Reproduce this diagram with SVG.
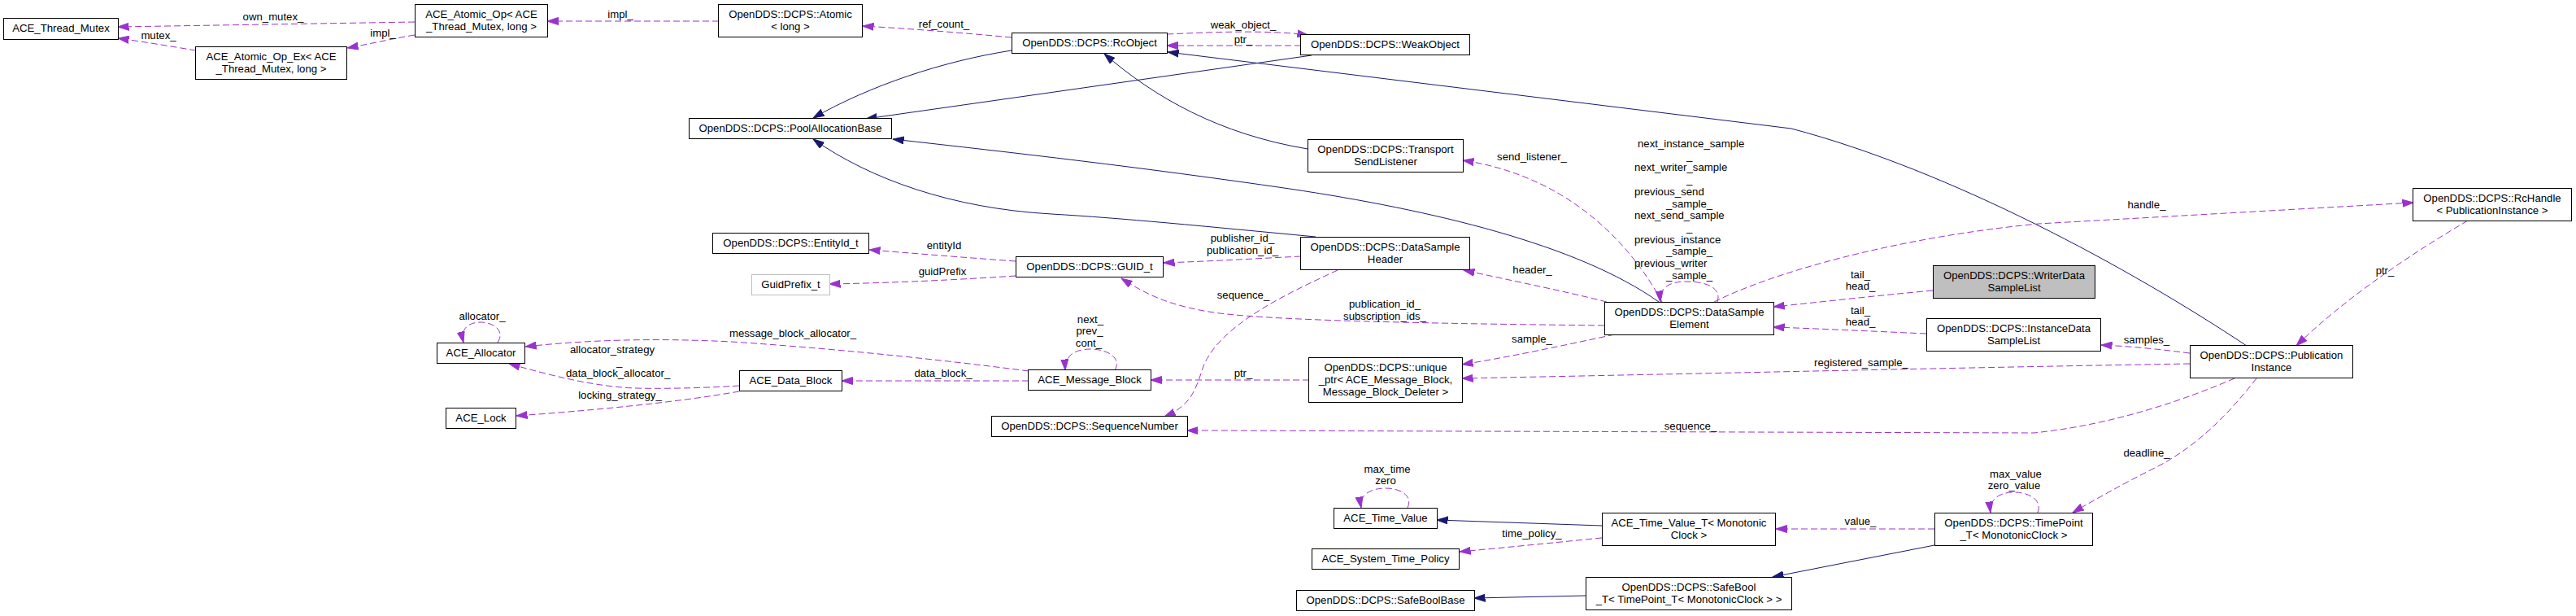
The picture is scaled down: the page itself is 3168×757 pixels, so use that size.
<svg xmlns="http://www.w3.org/2000/svg" width="3168" height="757" viewBox="0 0 3168 757">
<style>
.n rect{fill:#fff;stroke:#000;stroke-width:1}
.n text,.l{font-family:"Liberation Sans",Arial,Helvetica,sans-serif;font-size:13.2px;fill:#000}
.n text{text-anchor:middle}
.l{text-anchor:middle}
.s{text-anchor:start}
.e{fill:none;stroke:#9a32cd;stroke-width:1;stroke-dasharray:8,4}
.i{fill:none;stroke:#191970;stroke-width:1}
</style>
<defs>
<marker id="ap" viewBox="0 0 14 10" refX="13.5" refY="5" markerWidth="14" markerHeight="10" markerUnits="userSpaceOnUse" orient="auto"><path d="M0,0.5 L13.5,5 L0,9.5 z" fill="#9a32cd" stroke="#9a32cd"/></marker>
<marker id="ab" viewBox="0 0 14 10" refX="13.5" refY="5" markerWidth="14" markerHeight="10" markerUnits="userSpaceOnUse" orient="auto"><path d="M0,0.5 L13.5,5 L0,9.5 z" fill="#191970" stroke="#191970"/></marker>
</defs>
<rect width="3168" height="757" fill="#fff"/>
<g id="edges">
<path class="e" marker-end="url(#ap)" d="M510,27 L145,33"/>
<text class="l" x="336" y="25">own_mutex_</text>
<path class="e" marker-end="url(#ap)" d="M241,62 C210,57 175,51 145,47"/>
<text class="l" x="195" y="48">mutex_</text>
<path class="e" marker-end="url(#ap)" d="M510,43 C480,48 455,54 427,59"/>
<text class="l" x="471" y="45">impl_</text>
<path class="e" marker-end="url(#ap)" d="M884,26 L673,26"/>
<text class="l" x="763" y="21.5">impl_</text>
<path class="e" marker-end="url(#ap)" d="M1244,46 C1180,40 1115,35 1061,32"/>
<text class="l" x="1161" y="34">ref_count_</text>
<path class="e" marker-end="url(#ap)" d="M1435,42 C1500,39 1560,37 1609,43"/>
<text class="l" x="1529" y="35">weak_object_</text>
<path class="e" marker-end="url(#ap)" d="M1600,56 L1435,56"/>
<text class="l" x="1529" y="53">ptr_</text>
<path class="i" marker-end="url(#ab)" d="M1244,62 C1160,75 1070,105 1000,145"/>
<path class="i" marker-end="url(#ab)" d="M1613,68 L1065,146"/>
<path class="i" marker-end="url(#ab)" d="M2763,425 C2620,330 2400,210 2203,158 L1436,64"/>
<path class="i" marker-end="url(#ab)" d="M1608,183 C1500,165 1420,120 1358,66"/>
<path class="i" marker-end="url(#ab)" d="M2040,371 C1940,300 1760,258 1586,232 C1400,205 1250,188 1098,171"/>
<path class="i" marker-end="url(#ab)" d="M1618,291 C1480,278 1380,268 1293,263 C1170,256 1070,220 1000,171"/>
<path class="e" marker-end="url(#ap)" d="M3035,271 C2960,315 2880,370 2824,425"/>
<text class="l" x="2933" y="337">ptr_</text>
<path class="e" marker-end="url(#ap)" d="M2108,371 C2180,335 2330,292 2507,275 L2968,249"/>
<text class="l" x="2640" y="256">handle_</text>
<path class="e" marker-end="url(#ap)" d="M2377,357 C2310,363 2250,370 2181,377"/>
<text class="l" x="2288" y="342">tail_</text>
<text class="l" x="2288" y="356">head_</text>
<path class="e" marker-end="url(#ap)" d="M2369,410 C2300,407 2240,404 2181,402"/>
<text class="l" x="2288" y="386">tail_</text>
<text class="l" x="2288" y="400">head_</text>
<path class="e" marker-end="url(#ap)" d="M2693,434 C2660,430 2630,426 2584,424"/>
<text class="l" x="2640" y="422">samples_</text>
<path class="e" marker-end="url(#ap)" d="M2693,447 C2400,452 2100,459 1798,465"/>
<text class="l" x="2289" y="450">registered_sample_</text>
<path class="e" marker-end="url(#ap)" d="M1986,411 C1920,425 1860,438 1798,448"/>
<text class="l" x="1884" y="421">sample_</text>
<path class="e" marker-end="url(#ap)" d="M1973,400 C1800,398 1580,395 1500,385 C1440,377 1410,362 1379,342"/>
<text class="l" x="1703" y="378">publication_id_</text>
<text class="l" x="1703" y="393">subscription_ids_</text>
<path class="e" marker-end="url(#ap)" d="M1645,332 C1580,362 1500,400 1480,450 C1470,480 1465,498 1432,512"/>
<text class="l" x="1529" y="367">sequence_</text>
<path class="e" marker-end="url(#ap)" d="M1600,315 C1540,318 1490,321 1431,323"/>
<text class="l" x="1528" y="297">publisher_id_</text>
<text class="l" x="1528" y="312">publication_id_</text>
<path class="e" marker-end="url(#ap)" d="M1249,321 C1180,316 1120,311 1069,307"/>
<text class="l" x="1161" y="306">entityId</text>
<path class="e" marker-end="url(#ap)" d="M1249,339 C1160,345 1080,348 1020,349"/>
<text class="l" x="1159" y="338">guidPrefix</text>
<path class="e" marker-end="url(#ap)" d="M1371,455 C1380,440 1362,429 1341,429 C1322,429 1309,437 1310,455"/>
<text class="l" x="1341" y="397">next_</text>
<text class="l" x="1340" y="411">prev_</text>
<text class="l" x="1339" y="425.5">cont_</text>
<path class="e" marker-end="url(#ap)" d="M1265,456 C1180,445 1050,430 900,420 C800,415 720,418 646,426"/>
<text class="l" x="975" y="414">message_block_allocator_</text>
<path class="e" marker-end="url(#ap)" d="M909,474 C850,478 780,478 765,476 C720,472 680,462 626,447"/>
<text class="l s" x="701" y="434">allocator_strategy</text>
<text class="l s" x="758" y="448.5">_</text>
<text class="l s" x="696" y="463">data_block_allocator_</text>
<path class="e" marker-end="url(#ap)" d="M909,481 C830,495 720,505 635,511"/>
<text class="l" x="762.5" y="490">locking_strategy_</text>
<path class="e" marker-end="url(#ap)" d="M612,421 C622,405 605,396 591,396 C575,396 566,405 570,421"/>
<text class="l" x="593" y="393">allocator_</text>
<path class="e" marker-end="url(#ap)" d="M1265,468 L1035,468"/>
<text class="l" x="1160" y="463">data_block_</text>
<path class="e" marker-end="url(#ap)" d="M1610,467 L1415,467"/>
<text class="l" x="1529" y="463">ptr_</text>
<path class="e" marker-end="url(#ap)" d="M2748,465 C2690,490 2600,522 2501,532 L1460,529"/>
<text class="l" x="2079" y="528">sequence_</text>
<path class="e" marker-end="url(#ap)" d="M2775,465 C2740,510 2700,550 2650,575 C2610,595 2580,612 2549,630"/>
<text class="l" x="2640" y="561">deadline_</text>
<path class="e" marker-end="url(#ap)" d="M2506,630 C2512,614 2495,605 2477,605 C2458,605 2446,614 2448,630"/>
<text class="l" x="2479" y="587">max_value</text>
<text class="l" x="2477" y="601">zero_value</text>
<path class="e" marker-end="url(#ap)" d="M2379,650 L2184,650"/>
<text class="l" x="2288" y="645">value_</text>
<path class="i" marker-end="url(#ab)" d="M2379,670 L2180,709"/>
<path class="i" marker-end="url(#ab)" d="M1970,646 L1767,639"/>
<path class="e" marker-end="url(#ap)" d="M1970,661 C1910,667 1850,673 1795,678"/>
<text class="l" x="1884" y="660">time_policy_</text>
<path class="e" marker-end="url(#ap)" d="M1731,624 C1738,609 1722,600 1704,600 C1686,600 1671,608 1674,624"/>
<text class="l" x="1706" y="581">max_time</text>
<text class="l" x="1704" y="595">zero</text>
<path class="i" marker-end="url(#ab)" d="M1951,732 L1813,735"/>
<path class="e" marker-end="url(#ap)" d="M1976,371 C1920,357 1860,345 1800,332"/>
<text class="l" x="1884.5" y="336">header_</text>
<path class="e" marker-end="url(#ap)" d="M2044,371 C2000,290 1920,215 1799,197"/>
<text class="l" x="1884" y="197">send_listener_</text>
<path class="e" marker-end="url(#ap)" d="M2112,371 C2118,352 2095,346 2074,346 C2055,346 2040,352 2042,371"/>
<text class="l s" x="2014" y="181">next_instance_sample</text>
<text class="l s" x="2074" y="195.7">_</text>
<text class="l s" x="2010" y="210.4">next_writer_sample</text>
<text class="l s" x="2074" y="225">_</text>
<text class="l s" x="2010" y="240">previous_send</text>
<text class="l s" x="2049" y="254.5">_sample_</text>
<text class="l s" x="2010" y="269">next_send_sample</text>
<text class="l s" x="2074" y="284">_</text>
<text class="l s" x="2010" y="298.6">previous_instance</text>
<text class="l s" x="2049" y="313.3">_sample_</text>
<text class="l s" x="2010" y="328">previous_writer</text>
<text class="l s" x="2049" y="342.7">_sample_</text>
</g>
<g id="n_thread_mutex" class="n"><rect x="4.5" y="22.5" width="141" height="26"/><text x="75" y="39">ACE_Thread_Mutex</text></g>
<g id="n_atomic_op_ex" class="n"><rect x="240.5" y="57.5" width="186" height="40"/><text x="333.5" y="74">ACE_Atomic_Op_Ex&lt; ACE</text><text x="333.5" y="89">_Thread_Mutex, long &gt;</text></g>
<g id="n_atomic_op" class="n"><rect x="510.5" y="5.5" width="163" height="40"/><text x="592" y="22">ACE_Atomic_Op&lt; ACE</text><text x="592" y="37">_Thread_Mutex, long &gt;</text></g>
<g id="n_atomic_long" class="n"><rect x="883.5" y="5.5" width="177" height="40"/><text x="972" y="22">OpenDDS::DCPS::Atomic</text><text x="972" y="37">&lt; long &gt;</text></g>
<g id="n_pool" class="n"><rect x="847.5" y="145.5" width="249" height="25"/><text x="972" y="161.5">OpenDDS::DCPS::PoolAllocationBase</text></g>
<g id="n_entityid" class="n"><rect x="876.5" y="286.5" width="192" height="25"/><text x="972.5" y="303">OpenDDS::DCPS::EntityId_t</text></g>
<g id="n_guidprefix" class="n"><rect x="924.5" y="337.5" width="96" height="25" style="stroke:#bfbfbf"/><text x="972.5" y="354">GuidPrefix_t</text></g>
<g id="n_rcobject" class="n"><rect x="1244.5" y="40.5" width="191" height="25"/><text x="1340" y="56.5">OpenDDS::DCPS::RcObject</text></g>
<g id="n_guid" class="n"><rect x="1249.5" y="315.5" width="181" height="25"/><text x="1340" y="332">OpenDDS::DCPS::GUID_t</text></g>
<g id="n_allocator" class="n"><rect x="537.5" y="421.5" width="108" height="25"/><text x="591.5" y="437.5">ACE_Allocator</text></g>
<g id="n_lock" class="n"><rect x="548.5" y="501.5" width="86" height="25"/><text x="591.5" y="517.5">ACE_Lock</text></g>
<g id="n_data_block" class="n"><rect x="909.5" y="455.5" width="126" height="25"/><text x="972.5" y="471.5">ACE_Data_Block</text></g>
<g id="n_message_block" class="n"><rect x="1264.5" y="454.5" width="151" height="25"/><text x="1340" y="470.5">ACE_Message_Block</text></g>
<g id="n_seqnum" class="n"><rect x="1219.5" y="511.5" width="241" height="25"/><text x="1340" y="528">OpenDDS::DCPS::SequenceNumber</text></g>
<g id="n_weakobject" class="n"><rect x="1599.5" y="42.5" width="208" height="25"/><text x="1703.5" y="59">OpenDDS::DCPS::WeakObject</text></g>
<g id="n_tsl" class="n"><rect x="1608.5" y="171.5" width="191" height="40"/><text x="1704" y="188">OpenDDS::DCPS::Transport</text><text x="1704" y="203">SendListener</text></g>
<g id="n_dsh" class="n"><rect x="1599.5" y="291.5" width="208" height="40"/><text x="1703.5" y="308">OpenDDS::DCPS::DataSample</text><text x="1703.5" y="323">Header</text></g>
<g id="n_dse" class="n"><rect x="1973.5" y="371.5" width="208" height="40"/><text x="2077.5" y="388">OpenDDS::DCPS::DataSample</text><text x="2077.5" y="403">Element</text></g>
<g id="n_unique" class="n"><rect x="1609.5" y="439.5" width="189" height="55"/><text x="1704" y="456">OpenDDS::DCPS::unique</text><text x="1704" y="471">_ptr&lt; ACE_Message_Block,</text><text x="1704" y="486">Message_Block_Deleter &gt;</text></g>
<g id="n_time_value" class="n"><rect x="1640.5" y="624.5" width="127" height="25"/><text x="1704" y="640.5">ACE_Time_Value</text></g>
<g id="n_sys_time" class="n"><rect x="1613.5" y="674.5" width="181" height="25"/><text x="1704" y="691">ACE_System_Time_Policy</text></g>
<g id="n_safeboolbase" class="n"><rect x="1594.5" y="725.5" width="219" height="25"/><text x="1704" y="741.5">OpenDDS::DCPS::SafeBoolBase</text></g>
<g id="n_tv_t" class="n"><rect x="1970.5" y="630.5" width="213" height="40"/><text x="2077" y="646.5">ACE_Time_Value_T&lt; Monotonic</text><text x="2077" y="661.5">Clock &gt;</text></g>
<g id="n_safebool_t" class="n"><rect x="1950.5" y="709.5" width="253" height="40"/><text x="2077" y="725.5">OpenDDS::DCPS::SafeBool</text><text x="2077" y="740.5">_T&lt; TimePoint_T&lt; MonotonicClock &gt; &gt;</text></g>
<g id="n_writer_dsl" class="n"><rect x="2377.5" y="326.5" width="199" height="40" style="fill:#bfbfbf"/><text x="2477" y="342.5">OpenDDS::DCPS::WriterData</text><text x="2477" y="357.5">SampleList</text></g>
<g id="n_instance_dsl" class="n"><rect x="2369.5" y="391.5" width="214" height="40"/><text x="2476.5" y="407.5">OpenDDS::DCPS::InstanceData</text><text x="2476.5" y="422.5">SampleList</text></g>
<g id="n_timepoint" class="n"><rect x="2379.5" y="630.5" width="194" height="40"/><text x="2476.5" y="646.5">OpenDDS::DCPS::TimePoint</text><text x="2476.5" y="661.5">_T&lt; MonotonicClock &gt;</text></g>
<g id="n_rchandle" class="n"><rect x="2967.5" y="231.5" width="195" height="40"/><text x="3065" y="247.5">OpenDDS::DCPS::RcHandle</text><text x="3065" y="262.5">&lt; PublicationInstance &gt;</text></g>
<g id="n_pubinst" class="n"><rect x="2693.5" y="424.5" width="200" height="40"/><text x="2793.5" y="441">OpenDDS::DCPS::Publication</text><text x="2793.5" y="456">Instance</text></g>
</svg>
